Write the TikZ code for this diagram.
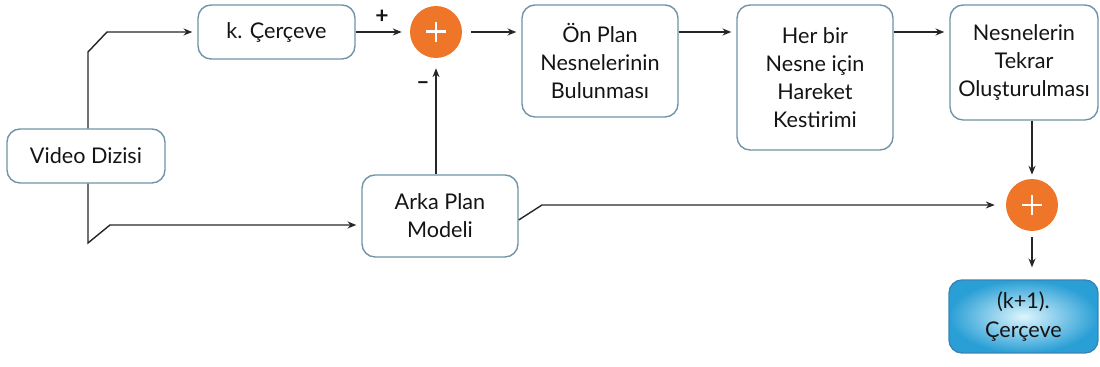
\documentclass[tikz,border=0pt]{standalone}
\usepackage{fontspec}
\setmainfont{Lato}
\usetikzlibrary{arrows.meta,calc}

\definecolor{boxedge}{HTML}{6F93A7}
\definecolor{sumorange}{HTML}{EF7628}
\definecolor{lineink}{HTML}{262626}
\definecolor{textink}{HTML}{141414}
\definecolor{skyout}{HTML}{2A9FD6}
\definecolor{skyin}{HTML}{DDF5FD}
\definecolor{skyedge}{HTML}{3984B2}

\begin{document}
\begin{tikzpicture}[x=0.02cm,y=-0.02cm,
  stage/.style={draw=boxedge, line width=0.8pt, rounded corners=0.26cm,
    fill=white, align=center, text=textink, inner sep=0pt,
    font=\fontsize{12.3}{16}\selectfont},
  result/.style={stage, draw=skyedge, inner color=skyin, outer color=skyout},
  sumnode/.style={circle, fill=sumorange, minimum size=1.04cm, inner sep=0pt,
    path picture={
      \draw[white, line width=1.7pt]
        ($(path picture bounding box.center)+(-0.2cm,0)$) -- ++(0.4cm,0)
        ($(path picture bounding box.center)+(0,-0.2cm)$) -- ++(0,0.4cm);
    }},
  link/.style={draw=lineink, line width=0.8pt,
    -{Stealth[length=5pt,width=4pt]}, shorten >=0.1cm},
  sign/.style={text=textink, inner sep=0pt,
    font=\fontsize{13}{14}\selectfont\bfseries},
]
\useasboundingbox (0,0) rectangle (1100,367);

% processing stages
\node[stage, minimum width=3.14cm, minimum height=1.08cm] (framek) at (276.5,32) {k. Çerçeve};
\node[sumnode] (sum1) at (436,32) {};
\node[stage, minimum width=3.12cm, minimum height=2.24cm] (fg) at (600,61)
  {Ön Plan\\Nesnelerinin\\Bulunması};
\node[stage, minimum width=3.12cm, minimum height=2.9cm] (motion) at (815,77.5)
  {Her bir\\Nesne için\\Hareket\\Kestirimi};
\node[stage, minimum width=2.96cm, minimum height=2.3cm] (rebuild) at (1024,62.5)
  {Nesnelerin\\Tekrar\\Oluşturulması};
\node[stage, minimum width=3.16cm, minimum height=1.08cm] (video) at (86,156) {Video Dizisi};
\node[stage, minimum width=3.12cm, minimum height=1.64cm] (bg) at (440,216)
  {Arka Plan\\Modeli};
\node[sumnode] (sum2) at (1032,205) {};
\node[result, minimum width=2.98cm, minimum height=1.46cm] (next) at (1023.5,316.5)
  {(k+1).\\Çerçeve};

% signs at the first summing point
\node[sign] (plus) at (382,17) {+};
\node[sign] (minus) at (423,86) {–};

% helper coordinates for the split of the video stream
\coordinate (split) at (88,0);
\coordinate (bgin) at (0,225);

% connectors
\draw[link] (split |- video.north) -- (88,52) -- (107,32) -- (framek.west);
\draw[link] (split |- video.south) -- (88,243) -- (110,225) -- (bg.west |- bgin);
\draw[link, shorten >=0.16cm] (framek.east) -- (sum1);
\draw[link, shorten >=0.2cm] (sum1.south |- bg.north) -- (sum1.south);
\draw[link, shorten <=0.18cm] (sum1) -- (fg.west |- sum1);
\draw[link] (fg.east |- sum1) -- (motion.west |- sum1);
\draw[link] (motion.east |- sum1) -- (rebuild.west |- sum1);
\draw[link, shorten >=0.08cm] (sum2 |- rebuild.south) -- (sum2);
\draw[link, shorten >=0.22cm] ($(bg.east)+(0,4)$) -- (542,205) -- (sum2);
\draw[link, shorten <=0.12cm, shorten >=0.24cm] (sum2.south) -- (sum2 |- next.north);
\end{tikzpicture}
\end{document}
